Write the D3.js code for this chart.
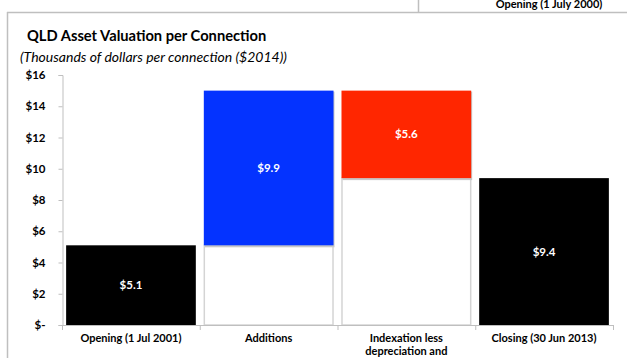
<!DOCTYPE html>
<html><head><meta charset="utf-8">
<script src="https://cdn.jsdelivr.net/npm/d3@7"></script>
<style>body{margin:0;background:#fff;} svg{display:block;font-family:Lato,"Open Sans",sans-serif;}</style>
</head><body>
<svg id="c" width="627" height="358"></svg>
<script>
const categories = ["Opening (1 Jul 2001)", "Additions", "Indexation less depreciation and", "Closing (30 Jun 2013)"];
const categoryLines = [["Opening (1 Jul 2001)"], ["Additions"], ["Indexation less", "depreciation and"], ["Closing (30 Jun 2013)"]];
const baseValues = [0, 5.1, 9.4, 0];      // white base part
const barValues = [5.1, 9.9, 5.6, 9.4];   // visible coloured part
const barColors = ["#000000", "#0433ff", "#ff2600", "#000000"];
const labels = ["$5.1", "$9.9", "$5.6", "$9.4"];
const yTicks = [0, 2, 4, 6, 8, 10, 12, 14, 16];
const yTickLabels = ["$-", "$2", "$4", "$6", "$8", "$10", "$12", "$14", "$16"];

const svg = d3.select("#c");
const grey = "#bfbfbf";

// frame
svg.append("line").attr("x1", 7.5).attr("x2", 7.5).attr("y1", 12).attr("y2", 358).attr("stroke", grey).attr("stroke-width", 1.5);
svg.append("line").attr("x1", 7).attr("x2", 627).attr("y1", 12.5).attr("y2", 12.5).attr("stroke", grey).attr("stroke-width", 1.5);
svg.append("line").attr("x1", 418.5).attr("x2", 418.5).attr("y1", 0).attr("y2", 12).attr("stroke", grey).attr("stroke-width", 1.5);
svg.append("text").attr("x", 549).attr("y", 7.5).attr("text-anchor", "middle").attr("font-size", 11).attr("font-weight", "bold").text("Opening (1 July 2000)");

svg.append("text").attr("x", 27).attr("y", 41).attr("font-size", 14.7).attr("font-weight", "bold").text("QLD Asset Valuation per Connection");
svg.append("text").attr("x", 20).attr("y", 62).attr("font-size", 14).attr("font-style", "italic").text("(Thousands of dollars per connection ($2014))");

const x = d3.scaleBand().domain(categories).range([62, 613]).paddingInner(0.058).paddingOuter(0.03);
const y = d3.scaleLinear().domain([0, 16]).range([325, 75]);

// y axis
const yAxis = d3.axisLeft(y).tickValues(yTicks).tickFormat((d, i) => yTickLabels[i]).tickSize(4).tickPadding(13);
const gy = svg.append("g").attr("transform", "translate(62.5,0)").call(yAxis);
gy.selectAll("path,line").attr("stroke", grey);
gy.selectAll("text").attr("font-size", 11.5).attr("font-weight", "bold").attr("fill", "#000").attr("font-family", "Lato,sans-serif");

// bars
const g = svg.append("g");
categories.forEach((c, i) => {
  if (baseValues[i] > 0) {
    g.append("rect").attr("x", x(c) + 0.5).attr("width", x.bandwidth() - 1)
      .attr("y", y(baseValues[i])).attr("height", y(0) - y(baseValues[i]))
      .attr("fill", "#fff").attr("stroke", "#d4d4d4").attr("stroke-width", 1.5);
  }
  const top = baseValues[i] + barValues[i];
  if (barColors[i] !== "#000000") {
    g.append("rect").attr("x", x(c) + 1).attr("width", x.bandwidth())
      .attr("y", y(top) + 1).attr("height", y(baseValues[i]) - y(top) + 1).attr("fill", "#c8c8c8");
  }
  g.append("rect").attr("x", x(c)).attr("width", x.bandwidth())
    .attr("y", y(top)).attr("height", y(baseValues[i]) - y(top)).attr("fill", barColors[i]);
  g.append("text").attr("x", x(c) + x.bandwidth() / 2).attr("y", (y(top) + y(baseValues[i])) / 2 + 4)
    .attr("text-anchor", "middle").attr("fill", "#fff").attr("font-size", 11.5).attr("font-weight", "bold").text(labels[i]);
});

// x axis
const xAxisLine = svg.append("g");
xAxisLine.append("line").attr("x1", 62).attr("x2", 613).attr("y1", 325.5).attr("y2", 325.5).attr("stroke", grey);
const step = (613 - 62) / categories.length;
d3.range(categories.length + 1).forEach(k => {
  xAxisLine.append("line").attr("x1", 62.5 + k * step).attr("x2", 62.5 + k * step).attr("y1", 325).attr("y2", 330).attr("stroke", grey);
});
categories.forEach((c, i) => {
  const t = svg.append("text").attr("x", x(c) + x.bandwidth() / 2).attr("y", 342).attr("text-anchor", "middle")
    .attr("font-size", 11).attr("font-weight", "bold");
  categoryLines[i].forEach((ln, j) => t.append("tspan").attr("x", x(c) + x.bandwidth() / 2).attr("dy", j === 0 ? 0 : 12.5).text(ln));
});
</script>
</body></html>
